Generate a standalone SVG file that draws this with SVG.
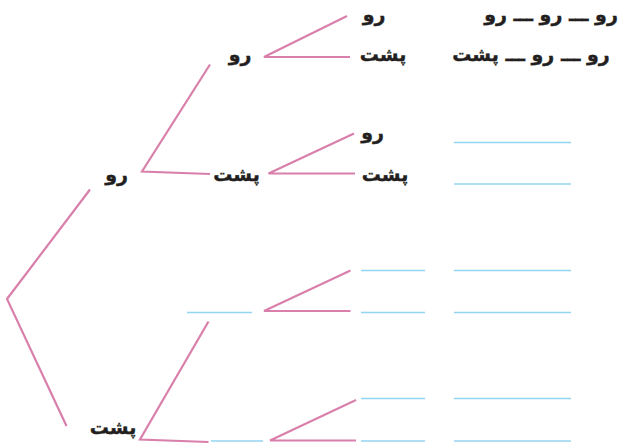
<svg xmlns="http://www.w3.org/2000/svg" width="618" height="446" viewBox="0 0 618 446">
<style>
.p{stroke:#d97fab;stroke-width:2.2;fill:none;stroke-linejoin:miter}
.b{stroke:#93d4f2;stroke-width:1.6;fill:none}
text{font-family:"DejaVu Sans",sans-serif;font-weight:bold;font-size:19px;fill:#231f20;stroke:#231f20;stroke-width:0.4;text-anchor:middle}
</style>
<rect width="618" height="446" fill="#fff"/>
<g id="connectors">
<polyline class="p" points="90,189.5 7,299 66.5,426"/>
<polyline class="p" points="210,64.5 142,171.5 210,174"/>
<polyline class="p" points="208.5,321.5 140,439.5 208.5,442"/>
<polyline class="p" points="347,16 264,57 350,57"/>
<polyline class="p" points="354,133.5 268.5,173.5 355,173.5"/>
<polyline class="p" points="350.5,270.5 264,311 350.5,311"/>
<polyline class="p" points="356,400 270,440.5 356,440.5"/>
</g>
<g id="blanks">
<line class="b" x1="454" y1="142.5" x2="571" y2="142.5"/>
<line class="b" x1="454" y1="184" x2="571" y2="184"/>
<line class="b" x1="187" y1="312.5" x2="252" y2="312.5"/>
<line class="b" x1="211" y1="441" x2="263" y2="441"/>
<line class="b" x1="361" y1="270.5" x2="425" y2="270.5"/>
<line class="b" x1="361" y1="312.5" x2="425" y2="312.5"/>
<line class="b" x1="361" y1="398.5" x2="425" y2="398.5"/>
<line class="b" x1="361" y1="441" x2="425" y2="441"/>
<line class="b" x1="454" y1="270.5" x2="571" y2="270.5"/>
<line class="b" x1="454" y1="312.5" x2="571" y2="312.5"/>
<line class="b" x1="454" y1="398.5" x2="571" y2="398.5"/>
<line class="b" x1="454" y1="441" x2="571" y2="441"/>
</g>
<g id="n1"><text x="116.5" y="181">رو</text></g>
<g id="n2"><text x="113" y="434">پشت</text></g>
<g id="n3"><text x="240" y="61">رو</text></g>
<g id="n4"><text x="236.5" y="181">پشت</text></g>
<g id="n5"><text x="374" y="21">رو</text></g>
<g id="n6"><text x="383" y="61">پشت</text></g>
<g id="n7"><text x="372.5" y="139">رو</text></g>
<g id="n8"><text x="385" y="181">پشت</text></g>
<g id="r1"><text x="551" y="21">رو ـــ رو ـــ رو</text></g>
<g id="r2"><text x="531" y="61">رو ـــ رو ـــ پشت</text></g>
</svg>
